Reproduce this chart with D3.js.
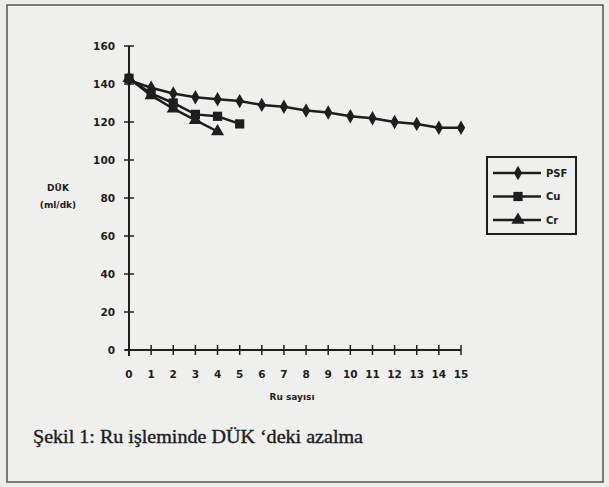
<!DOCTYPE html>
<html>
<head>
<meta charset="utf-8">
<script src="https://cdn.jsdelivr.net/npm/d3@7"></script>
<style>
  body { margin: 0; background: #ededeb; }
  svg { display: block; }
</style>
</head>
<body>
<svg id="chart" width="609" height="487"></svg>
<script>
// values
const runs = d3.range(0, 16);
const psf = [142, 138, 135, 133, 132, 131, 129, 128, 126, 125, 123, 122, 120, 119, 117, 117];
const cu = [143, 135, 130, 124, 123, 119];
const cr = [143, 134, 127, 121, 115];
const yTicks = [0, 20, 40, 60, 80, 100, 120, 140, 160];
const seriesNames = ['PSF', 'Cu', 'Cr'];

const svg = d3.select('#chart');
const ink = '#1e1e1e';
const sans = 'DejaVu Sans, Arial, sans-serif';

// page frame
svg.append('rect')
  .attr('x', 7).attr('y', 5)
  .attr('width', 596).attr('height', 477)
  .attr('fill', '#efefed')
  .attr('stroke', '#555').attr('stroke-width', 1.5);

const x = d3.scaleLinear().domain([0, 15]).range([129, 461]);
const y = d3.scaleLinear().domain([0, 160]).range([350, 46]);

// y axis
const yAxis = svg.append('g').attr('transform', `translate(${x(0)},0)`);
yAxis.append('line')
  .attr('y1', y(160)).attr('y2', y(0) + 6)
  .attr('stroke', ink).attr('stroke-width', 2);
yAxis.selectAll('line.tick')
  .data(yTicks)
  .join('line')
  .attr('class', 'tick')
  .attr('x1', -5).attr('x2', 5)
  .attr('y1', d => y(d)).attr('y2', d => y(d))
  .attr('stroke', ink).attr('stroke-width', 1.5);
yAxis.selectAll('text')
  .data(yTicks)
  .join('text')
  .attr('x', -14)
  .attr('y', d => y(d))
  .attr('dy', '0.35em')
  .attr('text-anchor', 'end')
  .attr('font-family', sans)
  .attr('font-weight', 'bold')
  .attr('font-size', 10.5)
  .attr('fill', ink)
  .text(d => d);

// x axis
const xAxis = svg.append('g').attr('transform', `translate(0,${y(0)})`);
xAxis.append('line')
  .attr('x1', x(0) - 4).attr('x2', x(15))
  .attr('stroke', ink).attr('stroke-width', 2);
xAxis.selectAll('line.tick')
  .data(runs)
  .join('line')
  .attr('class', 'tick')
  .attr('x1', d => x(d)).attr('x2', d => x(d))
  .attr('y1', -5).attr('y2', 5)
  .attr('stroke', ink).attr('stroke-width', 1.5);
xAxis.selectAll('text')
  .data(runs)
  .join('text')
  .attr('x', d => x(d))
  .attr('y', 28)
  .attr('text-anchor', 'middle')
  .attr('font-family', sans)
  .attr('font-weight', 'bold')
  .attr('font-size', 10.5)
  .attr('fill', ink)
  .text(d => d);

// axis titles
svg.append('text')
  .attr('x', 292).attr('y', 400)
  .attr('text-anchor', 'middle')
  .attr('font-family', sans)
  .attr('font-weight', 'bold')
  .attr('font-size', 9)
  .attr('fill', ink)
  .text('Ru sayısı');

svg.append('text')
  .attr('x', 58).attr('y', 191)
  .attr('text-anchor', 'middle')
  .attr('font-family', sans)
  .attr('font-weight', 'bold')
  .attr('font-size', 9)
  .attr('fill', ink)
  .text('DÜK');
svg.append('text')
  .attr('x', 58).attr('y', 208)
  .attr('text-anchor', 'middle')
  .attr('font-family', sans)
  .attr('font-weight', 'bold')
  .attr('font-size', 9)
  .attr('fill', ink)
  .text('(ml/dk)');

// series
const line = d3.line().x((d, i) => x(i)).y(d => y(d));
const symbols = [d3.symbolDiamond, d3.symbolSquare, d3.symbolTriangle];
const sizes = [60, 85, 75];
const series = [psf, cu, cr];

series.forEach((vals, k) => {
  svg.append('path')
    .datum(vals)
    .attr('d', line)
    .attr('fill', 'none')
    .attr('stroke', ink)
    .attr('stroke-width', 2.5);
  svg.selectAll(`path.mark-${k}`)
    .data(vals)
    .join('path')
    .attr('class', `mark-${k}`)
    .attr('transform', (d, i) => `translate(${x(i)},${y(d)})`)
    .attr('d', d3.symbol(symbols[k], sizes[k]))
    .attr('fill', ink);
});

// legend
const legend = svg.append('g').attr('transform', 'translate(487,157)');
legend.append('rect')
  .attr('width', 89).attr('height', 77)
  .attr('fill', 'none')
  .attr('stroke', ink).attr('stroke-width', 2);
seriesNames.forEach((name, k) => {
  const ly = 16 + k * 23.5;
  legend.append('line')
    .attr('x1', 6).attr('x2', 54)
    .attr('y1', ly).attr('y2', ly)
    .attr('stroke', ink).attr('stroke-width', 2.5);
  legend.append('path')
    .attr('transform', `translate(31,${ly})`)
    .attr('d', d3.symbol(symbols[k], sizes[k]))
    .attr('fill', ink);
  legend.append('text')
    .attr('x', 59).attr('y', ly)
    .attr('dy', '0.35em')
    .attr('font-family', sans)
    .attr('font-weight', 'bold')
    .attr('font-size', 10)
    .attr('fill', ink)
    .text(name);
});

// caption
svg.append('text')
  .attr('x', 33).attr('y', 443)
  .attr('font-family', 'Liberation Serif, Times New Roman, serif')
  .attr('font-size', 19.5)
  .attr('fill', ink)
  .attr('stroke', ink)
  .attr('stroke-width', 0.4)
  .attr('textLength', 330)
  .attr('lengthAdjust', 'spacingAndGlyphs')
  .text('Şekil 1: Ru işleminde DÜK ‘deki azalma');
</script>
</body>
</html>
